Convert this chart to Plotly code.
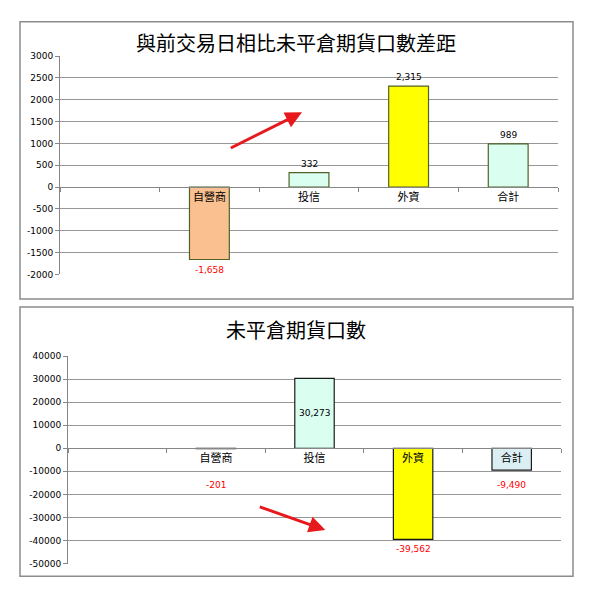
import plotly.graph_objects as go

# data
categories = ["自營商", "投信", "外資", "合計"]
axis_categories = [" "] + categories  # Excel sheet has an empty first row

change_values = [-1658, 332, 2315, 989]
oi_values = [-201, 30273, -39562, -9490]

title_top = "與前交易日相比未平倉期貨口數差距"
title_bottom = "未平倉期貨口數"

top_ticks = list(range(-2000, 3001, 500))
bottom_ticks = list(range(-50000, 40001, 10000))

# styles
W, H = 590, 600
top_fill = ["#FAC090", "#DAFEF0", "#FFFF00", "#DAFEF0"]
top_edge = "#4F6228"
bottom_fill = ["#FAC090", "#DAFEF0", "#FFFF00", "#DAEEF3"]
bottom_edge = "#1A1A1A"
bottom_inside = [False, True, False, False]
grid = "#979797"
axis_col = "#868686"
cjk = "Noto Sans CJK TC"
num_font = "DejaVu Sans"


def px_x(p):
    return p / W


def px_y(p):
    return 1 - p / H


top_dom_x = [px_x(60), px_x(558)]
top_dom_y = [px_y(274), px_y(52)]
bot_dom_x = [px_x(68), px_x(561)]
bot_dom_y = [px_y(568), px_y(357)]
top_range = [-2000, 3000]
bot_range = [-50000, 40000]


def zero_pos(dom, rng):
    return dom[0] + (0 - rng[0]) / (rng[1] - rng[0]) * (dom[1] - dom[0])


def x_axis(dom, ydom, yrng):
    return dict(
        domain=dom, type="category", categoryorder="array",
        categoryarray=axis_categories, range=[-0.5, 4.5],
        anchor="free", position=zero_pos(ydom, yrng),
        showline=True, linecolor=axis_col, linewidth=1,
        ticks="outside", tickson="boundaries", ticklen=4, tickcolor=axis_col,
        showgrid=False, tickfont=dict(family=cjk, size=11, color="black"),
        fixedrange=True,
    )


def y_axis(dom, rng, ticks, anchor):
    return dict(
        domain=dom, range=rng, anchor=anchor,
        tickmode="array", tickvals=ticks, ticktext=[str(t) for t in ticks],
        showline=True, linecolor=axis_col, linewidth=1,
        ticks="outside", ticklen=4, tickcolor=axis_col,
        showgrid=True, gridcolor=grid, gridwidth=1, zeroline=False,
        tickfont=dict(family=num_font, size=9, color="black"),
        fixedrange=True,
    )


fig = go.Figure()
fig.add_trace(go.Bar(
    x=categories, y=change_values, xaxis="x", yaxis="y", width=0.4,
    marker=dict(color=top_fill, line=dict(color=top_edge, width=1.2)),
    hoverinfo="skip", showlegend=False,
))
fig.add_trace(go.Bar(
    x=categories, y=oi_values, xaxis="x2", yaxis="y2", width=0.4,
    marker=dict(color=bottom_fill, line=dict(color=bottom_edge, width=1.2)),
    hoverinfo="skip", showlegend=False,
))

annotations = []


def add_labels(values, xref, yref, rng, ydom, inside):
    unit_px = (ydom[1] - ydom[0]) * H / (rng[1] - rng[0])
    for cat, v, ins in zip(categories, values, inside):
        color = "#FF0000" if v < 0 else "black"
        if ins:
            y, anchor, shift = v / 2, "middle", 0
        elif v >= 0:
            y, anchor, shift = v, "bottom", 2
        else:
            # keep the label clear of the category name under the axis
            y, anchor, shift = min(v, -27 / unit_px), "top", -3
        annotations.append(dict(
            x=cat, y=y, xref=xref, yref=yref, text=f"{v:,}", showarrow=False,
            yanchor=anchor, yshift=shift,
            font=dict(family=num_font, size=9, color=color),
        ))


add_labels(change_values, "x", "y", top_range, top_dom_y, [False] * 4)
add_labels(oi_values, "x2", "y2", bot_range, bot_dom_y, bottom_inside)

annotations.append(dict(x=px_x(296), y=px_y(38), xref="paper", yref="paper",
                        text=title_top, showarrow=False, yanchor="middle",
                        font=dict(family=cjk, size=20, color="black")))
annotations.append(dict(x=px_x(296), y=px_y(330), xref="paper", yref="paper",
                        text=title_bottom, showarrow=False, yanchor="middle",
                        font=dict(family=cjk, size=20, color="black")))

# red arrows drawn on the sheet
arrow = dict(text="", showarrow=True, arrowhead=2, arrowsize=1.1,
             arrowwidth=3, arrowcolor="#E8191C", standoff=0)
annotations.append(dict(arrow, x=1.93, y=1712, ax=1.2, ay=878,
                        xref="x", yref="y", axref="x", ayref="y"))
annotations.append(dict(arrow, x=2.11, y=-35470, ax=1.43, ay=-25200,
                        xref="x2", yref="y2", axref="x2", ayref="y2"))

border = dict(type="rect", xref="paper", yref="paper",
              line=dict(color="#8C8C8C", width=1.5), fillcolor="rgba(0,0,0,0)")
shapes = [
    dict(border, x0=px_x(20), x1=px_x(573), y0=px_y(299), y1=px_y(17)),
    dict(border, x0=px_x(20), x1=px_x(573), y0=px_y(581), y1=px_y(307)),
]

fig.update_layout(
    width=W, height=H, margin=dict(l=0, r=0, t=0, b=0),
    paper_bgcolor="white", plot_bgcolor="white",
    xaxis=x_axis(top_dom_x, top_dom_y, top_range),
    yaxis=y_axis(top_dom_y, top_range, top_ticks, "x"),
    xaxis2=x_axis(bot_dom_x, bot_dom_y, bot_range),
    yaxis2=y_axis(bot_dom_y, bot_range, bottom_ticks, "x2"),
    annotations=annotations, shapes=shapes, showlegend=False,
)

# pin the 590x600 figure to the window origin
pin = ("document.body.style.margin='0';"
       "document.body.style.overflow='hidden';"
       "var gd=document.getElementById('{plot_id}');"
       "gd.style.position='fixed';gd.style.top='0';gd.style.left='0';")
fig.write_html("out.html", post_script=pin,
               config={"displayModeBar": False})
